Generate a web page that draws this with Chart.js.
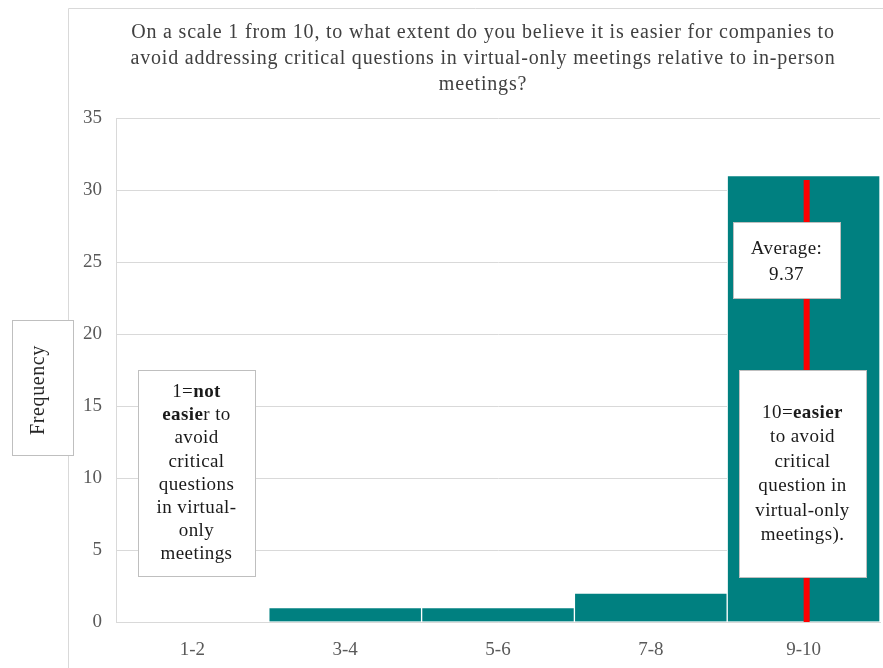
<!DOCTYPE html>
<html>
<head>
<meta charset="utf-8">
<script src="https://cdn.jsdelivr.net/npm/chart.js@4.4.1/dist/chart.umd.min.js"></script>
<style>
  html, body { margin: 0; padding: 0; background: #fff; }
  #wrap { width: 883px; height: 668px; position: relative; }
</style>
</head>
<body>
<div id="wrap"><canvas id="grafica"></canvas></div>
<script>
// rangos de respuesta y frecuencias
const categorias = ['1-2', '3-4', '5-6', '7-8', '9-10'];
const frecuencias = [0, 1, 1, 2, 31];
const promedio = 9.37;
const alturaLinea = 30.7;

const titulo = [
    'On a scale 1 from 10, to what extent do you believe it is easier for companies to',
    'avoid addressing critical questions in virtual-only meetings relative to in-person',
    'meetings?'
];
const serif = '"Liberation Serif", "DejaVu Serif", serif';

// cuadros de texto: cada linea es una lista de [texto, negrita]
const cuadros = [
    { x: 138, y: 370, w: 117, h: 206, y0: 392, paso: 23.2, lineas: [
        [['1=', false], ['not', true]],
        [['easie', true], ['r to', false]],
        [['avoid', false]],
        [['critical', false]],
        [['questions', false]],
        [['in virtual-', false]],
        [['only', false]],
        [['meetings', false]]
    ]},
    { x: 733, y: 222, w: 107, h: 76, y0: 249, paso: 26, lineas: [
        [['Average:', false]],
        [[String(promedio), false]]
    ]},
    { x: 739, y: 370, w: 127, h: 207, y0: 413, paso: 24.4, lineas: [
        [['10=', false], ['easier', true]],
        [['to avoid', false]],
        [['critical', false]],
        [['question in', false]],
        [['virtual-only', false]],
        [['meetings).', false]]
    ]}
];

const decoracion = {
    id: 'decoracion',
    beforeDraw(chart) {
        const c = chart.ctx;
        c.save();
        c.strokeStyle = '#d9d9d9';
        c.lineWidth = 1;
        c.beginPath();
        c.moveTo(68.5, 668);
        c.lineTo(68.5, 8.5);
        c.lineTo(883, 8.5);
        c.stroke();

        c.fillStyle = '#404040';
        c.font = '20px ' + serif;
        c.letterSpacing = '0.8px';
        c.textAlign = 'center';
        c.textBaseline = 'middle';
        titulo.forEach((t, i) => c.fillText(t, 483, 33 + i * 26));
        c.restore();
    },
    afterDatasetsDraw(chart) {
        const c = chart.ctx;
        c.save();
        c.textBaseline = 'middle';
        c.letterSpacing = '0.4px';
        cuadros.forEach(b => {
            c.fillStyle = '#fff';
            c.fillRect(b.x, b.y, b.w, b.h);
            c.strokeStyle = '#bfbfbf';
            c.lineWidth = 1;
            c.strokeRect(b.x + 0.5, b.y + 0.5, b.w, b.h);
            const cx = b.x + b.w / 2;
            b.lineas.forEach((partes, i) => {
                let total = 0;
                partes.forEach(([t, n]) => {
                    c.font = (n ? 'bold ' : '') + '19px ' + serif;
                    total += c.measureText(t).width;
                });
                let x = cx - total / 2;
                c.textAlign = 'left';
                c.fillStyle = '#1a1a1a';
                partes.forEach(([t, n]) => {
                    c.font = (n ? 'bold ' : '') + '19px ' + serif;
                    c.fillText(t, x, b.y0 + i * b.paso);
                    x += c.measureText(t).width;
                });
            });
        });

        // etiqueta del eje vertical
        c.fillStyle = '#fff';
        c.fillRect(12, 320, 61, 135);
        c.strokeStyle = '#bfbfbf';
        c.strokeRect(12.5, 320.5, 61, 135);
        c.translate(39, 390);
        c.rotate(-Math.PI / 2);
        c.fillStyle = '#262626';
        c.font = '20px ' + serif;
        c.letterSpacing = '0.6px';
        c.textAlign = 'center';
        c.fillText('Frequency', 0, 0);
        c.restore();
    }
};

const ctx = document.getElementById('grafica').getContext('2d');
new Chart(ctx, {
    data: {
        labels: categorias,
        datasets: [
            {
                type: 'bar',
                data: frecuencias,
                backgroundColor: '#008080',
                borderColor: '#ffffff',
                borderWidth: 1,
                barPercentage: 1,
                categoryPercentage: 1,
                grouped: false,
                order: 2
            },
            {
                type: 'line',
                xAxisID: 'xProm',
                data: [{ x: promedio, y: 0 }, { x: promedio, y: alturaLinea }],
                borderColor: '#ff0000',
                borderWidth: 6,
                pointRadius: 0,
                order: 1
            }
        ]
    },
    options: {
        responsive: true,
        maintainAspectRatio: false,
        animation: false,
        layout: { padding: { top: 118, right: 3, left: 0, bottom: 0 } },
        plugins: {
            legend: { display: false },
            tooltip: { enabled: false }
        },
        scales: {
            x: {
                type: 'category',
                offset: true,
                grid: { display: false, drawTicks: false },
                border: { color: '#d9d9d9' },
                ticks: { color: '#595959', font: { family: serif, size: 19 }, padding: 17 },
                afterFit: s => { s.height = 46; }
            },
            xProm: {
                type: 'linear',
                display: false,
                min: 0.33,
                max: 10.33
            },
            y: {
                min: 0,
                max: 35,
                ticks: { stepSize: 5, color: '#595959', font: { family: serif, size: 19 }, padding: 14 },
                grid: { color: '#d9d9d9', drawTicks: false },
                border: { color: '#d9d9d9' },
                afterFit: s => { s.width = 116; }
            }
        }
    },
    plugins: [decoracion]
});
</script>
</body>
</html>
